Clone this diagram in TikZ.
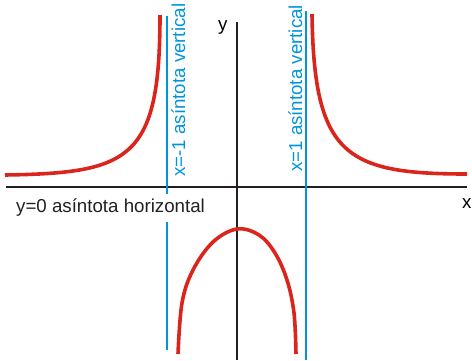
\documentclass[tikz,border=0pt]{standalone}
\usepackage{fontspec}
\setmainfont{Liberation Sans}
\definecolor{curvered}{HTML}{DA251D}
\definecolor{asymblue}{HTML}{0095DA}
\definecolor{axisblack}{HTML}{231F20}
\begin{document}
\begin{tikzpicture}[x=1pt,y=-1pt,
  axisline/.style={draw=axisblack,line width=2pt},
  asymline/.style={draw=asymblue,line width=2pt},
  curveline/.style={draw=curvered,line width=3.6pt},
  lbl/.style={inner sep=0pt,font=\fontsize{18.7}{20}\selectfont},
  asymlbl/.style={lbl,text=asymblue,rotate=90,anchor=base west}]
\useasboundingbox (0,0) rectangle (472,360);
% axes
\coordinate (xl) at (6,187);
\coordinate (xr) at (467,187);
\coordinate (yt) at (237,22);
\coordinate (yb) at (237,360);
\draw[axisline] (xl) -- (xr);
\draw[axisline] (yt) -- (yb);
% asymptotes
\coordinate (a1t) at (167,16);
\coordinate (a1m) at (167,194);
\coordinate (a1n) at (167,222);
\coordinate (a1b) at (167,350);
\coordinate (a2t) at (305.5,11);
\coordinate (a2b) at (305.5,360);
\draw[asymline] (a1t) -- (a1m);
\draw[asymline] (a1n) -- (a1b);
\draw[asymline] (a2t) -- (a2b);
% curves
\coordinate (c1s) at (5,175);
\coordinate (c1e) at (160,15);
\coordinate (c2s) at (312,14);
\coordinate (c2e) at (467,174);
\draw[curveline] (c1s) .. controls (130,173) and (160,160) .. (c1e);
\draw[curveline] (c2s) .. controls (314,155) and (345,174) .. (c2e);
\draw[curveline,smooth,tension=0.6] plot coordinates {(178,354) (182,303) (193,270) (213,242) (237,229) (259,235) (275,253) (287,280) (294,313) (296,354)};
% labels
\node[lbl,anchor=base west] (ylab) at (218,30) {y};
\node[lbl,anchor=base west] (xlab) at (462,208) {x};
\node[lbl,anchor=base west,text=axisblack] (hlab) at (16,212) {y=0 asíntota horizontal};
\node[asymlbl] (v1lab) at (185,177) {x=-1 asíntota vertical};
\node[asymlbl] (v2lab) at (302,172) {x=1 asíntota vertical};
\end{tikzpicture}
\end{document}
